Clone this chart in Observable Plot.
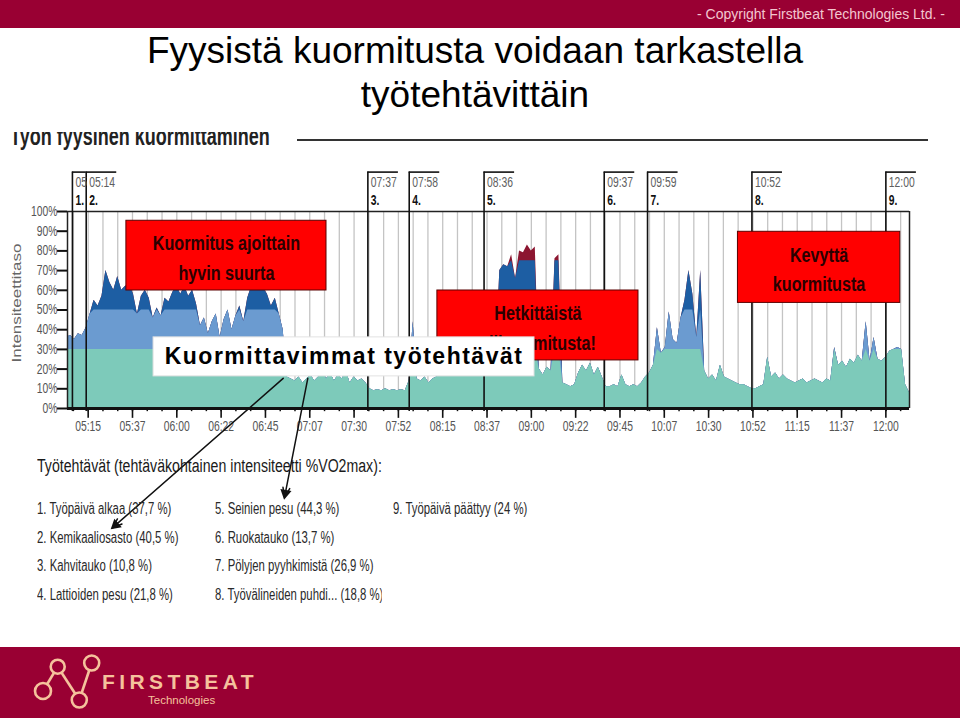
<!DOCTYPE html>
<html><head><meta charset="utf-8">
<script src="https://cdn.jsdelivr.net/npm/d3@7"></script>
<script src="https://cdn.jsdelivr.net/npm/@observablehq/plot@0.6"></script>
<style>
body{margin:0;width:960px;height:720px;position:relative;overflow:hidden;background:#fff;font-family:"Liberation Sans",Arial,sans-serif;}
.abs{position:absolute;}
#topbar{left:0;top:0;width:960px;height:28px;background:#990033;}
#copy{right:15px;top:6px;color:#f3c6cf;font-size:14px;white-space:nowrap;}
#title{left:0;width:950px;top:29px;text-align:center;font-size:37px;line-height:44px;color:#000;}
#headclip{left:10px;top:132px;width:280px;height:20px;overflow:hidden;}
#headtxt{position:absolute;left:0;top:-8px;font-size:25px;line-height:25px;font-weight:bold;color:#222;white-space:nowrap;transform:scaleX(0.72);transform-origin:0 0;}
#headline{left:297px;top:139px;width:631px;height:2px;background:#333;}
#chart{left:0;top:160px;}
#legendHead{left:37px;top:456px;font-size:18px;line-height:20px;color:#1a1a1a;white-space:nowrap;transform:scaleX(0.785);transform-origin:0 0;}
.col{top:500px;font-size:16px;line-height:18px;color:#2a2a2a;white-space:nowrap;overflow:hidden;transform:scaleX(0.71);transform-origin:0 0;}
.col div{height:28.5px;}
#botbar{left:0;top:647px;width:960px;height:71px;background:#990033;}
</style>
</head><body>
<div id="topbar" class="abs"></div>
<div id="copy" class="abs">- Copyright Firstbeat Technologies Ltd. -</div>
<div id="title" class="abs">Fyysistä kuormitusta voidaan tarkastella<br>työtehtävittäin</div>
<div id="headclip" class="abs"><div id="headtxt">Työn fyysinen kuormittaminen</div></div>
<div id="headline" class="abs"></div>
<div id="chart" class="abs"></div>
<div id="legendHead" class="abs">Työtehtävät (tehtäväkohtainen intensiteetti %VO2max):</div>
<div id="col1" class="abs col" style="left:37px;width:240px"></div>
<div id="col2" class="abs col" style="left:215px;width:235px"></div>
<div id="col3" class="abs col" style="left:393px;width:260px"></div>
<div id="botbar" class="abs">
<svg width="300" height="71" style="position:absolute;left:0;top:0">
 <g stroke="#f5c29c" stroke-width="2.6" fill="none">
  <line x1="43" y1="44" x2="57.7" y2="19.7"/>
  <line x1="57.7" y1="19.7" x2="79.3" y2="53"/>
  <line x1="79.3" y1="53" x2="91.7" y2="16"/>
  <circle cx="43" cy="44" r="8" fill="#990033"/>
  <circle cx="57.7" cy="19.7" r="7" fill="#990033"/>
  <circle cx="79.3" cy="53" r="7.5" fill="#990033"/>
  <circle cx="91.7" cy="16" r="7.5" fill="#990033"/>
 </g>
 <text x="102" y="42" fill="#f5c29c" font-family="Liberation Sans, Arial" font-size="21" font-weight="bold" letter-spacing="4.4">FIRSTBEAT</text>
 <text x="148" y="57" fill="#f5c29c" font-family="Liberation Sans, Arial" font-size="11.5">Technologies</text>
</svg>
</div>
<script>
// ---- data ----
const START = 304, STEP = 2; // minutes after midnight, sampling step
const intensity = [
 36,37,35,38,37,41,
 48,55,52,57,70,64,60,67,60,62,
 63,58,48,57,60,56,46,51,47,56,
 54,59,62,58,62,57,60,53,42,46,
 38,44,48,36,45,50,40,47,52,44,
 56,62,60,63,61,58,52,56,48,40,
 16,15,14,16,13,15,17,14,16,20,15,18,14,17,15,19,13,16,14,15,13,
 10,9,9.5,9,10,9,9.5,9,9.5,9,
 14,44,15,14,16,13,15,16,20,22,19,21,18,22,20,19,21,18,20,22,
 23,22,24,70,73,72,78,66,80,79,83,80,82,20,17,21,19,76,78,13,12,11,12,18,22,19,23,17,21,16,
 11,11,12,11,17,12,11,12,11,13,16,
 18,22,41,28,31,49,35,33,46,55,70,58,36,70,19,15,17,14,22,16,15,14,13,12,12,11,
 10,10,11,12,26,16,18,15,17,15,14,13,14,15,13,14,15,14,13,15,14,
 31,22,24,21,25,23,27,24,44,24,36,25,24,26,29,30,31,30,12,8
];
const taskStart = [307, 314, 457, 478, 516, 577, 599, 652, 720];
const taskNames = ["Työpäivä alkaa","Kemikaaliosasto","Kahvitauko","Lattioiden pesu","Seinien pesu","Ruokatauko","Pölyjen pyyhkimistä","Työvälineiden puhdi...","Työpäivä päättyy"];
const taskIntensity = ["37,7","40,5","10,8","21,8","44,3","13,7","26,9","18,8","24"];
const xDomain = [304.5, 732];
const xTicks = d3.range(315, 721, 22.5);
const yTicks = d3.range(0, 101, 10);
const gridTimes = d3.range(307.5, 731, 7.5);
const bandLimits = [30, 50, 75];
const bandColors = ["#7dcaba", "#6b9bd0", "#1d5ea3", "#8c1630"];
const callouts = [
 {x1: 334.4, x2: 436, y1: 59.9, y2: 95.3, text: "Kuormitus ajoittain\nhyvin suurta"},
 {x1: 492.3, x2: 594.4, y1: 24.4, y2: 59.9, text: "Hetkittäistä\nylikuormitusta!"},
 {x1: 644.9, x2: 727.3, y1: 53.6, y2: 89.7, text: "Kevyttä\nkuormitusta"}
];
const labelBox = {x1: 348.2, x2: 541.6, y1: 16.3, y2: 36.1, text: "Kuormittavimmat työtehtävät"};
const arrows = [
 {x1: 414, y1: 15.3, x2: 327.4, y2: -60.5},
 {x1: 426.5, y1: 15.3, x2: 414.7, y2: -45}
];

// ---- build ----
const FONT = "'Liberation Sans',Arial,sans-serif";
const W = 960, H = 460, ML = 67, MR = 51, MT = 51, MB = 212;
const pad = n => String(n).padStart(2, "0");
const fmt = m => pad(Math.floor(m / 60)) + ":" + pad(Math.floor(m % 60));
const pts = intensity.map((v, i) => ({t: START + STEP * i, v}));
const markers = taskStart.map((t, i) => ({t, n: i + 1, next: i + 1 < taskStart.length ? taskStart[i + 1] : Infinity}));
const xl = xDomain[0], xr = xDomain[1];
const kx = (W - ML - MR) / (xr - xl), ky = (H - MT - MB) / 100;
const heads = arrows.map(a => {
  const dx = (a.x2 - a.x1) * kx, dy = -(a.y2 - a.y1) * ky, L = Math.hypot(dx, dy);
  const ux = dx / L, uy = dy / L;
  return {x: a.x2 - ux * 4 / kx, y: a.y2 + uy * 4 / ky, r: Math.atan2(ux, -uy) * 180 / Math.PI};
});

const chart = Plot.plot({
  width: W, height: H,
  marginLeft: ML, marginRight: MR, marginTop: MT, marginBottom: MB,
  x: {domain: xDomain, axis: null},
  y: {domain: [0, 100], axis: null},
  style: {fontFamily: FONT, background: "transparent", overflow: "visible"},
  marks: [
    Plot.ruleX(gridTimes, {y1: 0, y2: 100, stroke: "#c4c4c4", strokeWidth: 1.3}),
    Plot.areaY(pts, {x: "t", y: "v", fill: bandColors[3], clip: true}),
    Plot.areaY(pts, {x: "t", y: d => Math.min(d.v, bandLimits[2]), fill: bandColors[2], clip: true}),
    Plot.areaY(pts, {x: "t", y: d => Math.min(d.v, bandLimits[1]), fill: bandColors[1], clip: true}),
    Plot.areaY(pts, {x: "t", y: d => Math.min(d.v, bandLimits[0]), fill: bandColors[0], clip: true}),
    // frame
    Plot.ruleY([100], {x1: xl, x2: xr, stroke: "#222", strokeWidth: 1.5}),
    Plot.ruleX([xl, xr], {y1: 0, y2: 100, stroke: "#222", strokeWidth: 1.5}),
    // y axis
    Plot.ruleY(yTicks, {x1: xl - 5.1, x2: xl, stroke: "#111", strokeWidth: 2}),
    Plot.text(yTicks, {x: xl, y: d => d, dx: -10, textAnchor: "end", text: d => d + "%", fill: "#555", fontSize: 14, ariaLabel: () => "narrow"}),
    Plot.text(["Intensiteettitaso"], {frameAnchor: "left", textAnchor: "middle", dx: -51, dy: -7, rotate: -90, fill: "#666", fontSize: 17, ariaLabel: () => "ylabel"}),
    // x axis
    Plot.ruleX(gridTimes, {y1: 0, y2: -1.6, stroke: "#111", strokeWidth: 1.5}),
    Plot.ruleX(xTicks, {y1: 0, y2: -5, stroke: "#111", strokeWidth: 1.6}),
    Plot.ruleY([0], {x1: xl, x2: xr, stroke: "#111", strokeWidth: 3}),
    Plot.text(xTicks, {x: d => d, y: 0, dy: 18, text: fmt, fill: "#555", fontSize: 14, ariaLabel: () => "narrow"}),
    // task markers
    Plot.ruleX(markers, {x: "t", y1: -1.5, y2: 120, stroke: "#111", strokeWidth: 1.6}),
    Plot.ruleY(markers, {y: 120, x1: "t", x2: d => Math.min(d.t + 15.5, d.next), stroke: "#111", strokeWidth: 1.6}),
    Plot.text(markers, {x: "t", y: 114.5, dx: 3, textAnchor: "start", text: d => (d.next - d.t < 10 ? pad(Math.floor(d.t / 60)) : fmt(d.t)), fill: "#5e5e5e", fontSize: 14, ariaLabel: () => "narrow"}),
    Plot.text(markers, {x: "t", y: 105.4, dx: 3, textAnchor: "start", text: d => d.n + ".", fill: "#111", fontSize: 14, fontWeight: "bold", ariaLabel: () => "narrow"}),
    // callouts
    Plot.rect(callouts, {x1: "x1", x2: "x2", y1: "y1", y2: "y2", fill: "#ff0000", stroke: "#5a0000", strokeWidth: 1}),
    Plot.text(callouts, {x: d => (d.x1 + d.x2) / 2, y: d => (d.y1 + d.y2) / 2, text: "text", fontSize: 21, fontWeight: "bold", fill: "#2a0000", lineHeight: 1.4, ariaLabel: () => "boxtext"}),
    Plot.rect([labelBox], {x1: "x1", x2: "x2", y1: "y1", y2: "y2", fill: "#fff", stroke: "#e2e2e2"}),
    Plot.text([labelBox], {x: d => (d.x1 + d.x2) / 2, y: d => (d.y1 + d.y2) / 2, text: "text", fontSize: 23, fontWeight: "bold", fill: "#000", ariaLabel: () => "labeltext"}),
    Plot.arrow(arrows, {x1: "x1", y1: "y1", x2: "x2", y2: "y2", stroke: "#111", strokeWidth: 1.5, headLength: 10, headAngle: 40}),
    Plot.dot(heads, {x: "x", y: "y", rotate: "r", symbol: "triangle", r: 4.2, fill: "#111", stroke: null})
  ]
});
function squash(sel, sx, sy) {
  d3.select(chart).selectAll(sel).each(function() {
    let tr = this.getAttribute("transform");
    if (!tr) {
      const x = +this.getAttribute("x") || 0, y = +this.getAttribute("y") || 0;
      this.removeAttribute("x"); this.removeAttribute("y");
      tr = `translate(${x},${y})`;
    }
    this.setAttribute("transform", `${tr} scale(${sx},${sy})`);
  });
}
squash('text[aria-label="narrow"]', 0.74, 1);
squash('text[aria-label="boxtext"]', 0.77, 1);
squash('text[aria-label="ylabel"]', 1, 0.8);
d3.select(chart).selectAll('text[aria-label="labeltext"]').attr("letter-spacing", "1.5px");
document.getElementById("chart").appendChild(chart);

// legend
const items = taskNames.map((n, i) => `${i + 1}. ${n} (${taskIntensity[i]} %)`);
[[0,4],[4,8],[8,9]].forEach(([a, b], c) => {
  const col = document.getElementById("col" + (c + 1));
  items.slice(a, b).forEach(s => { const d = document.createElement("div"); d.textContent = s; col.appendChild(d); });
});
</script>
</body></html>
